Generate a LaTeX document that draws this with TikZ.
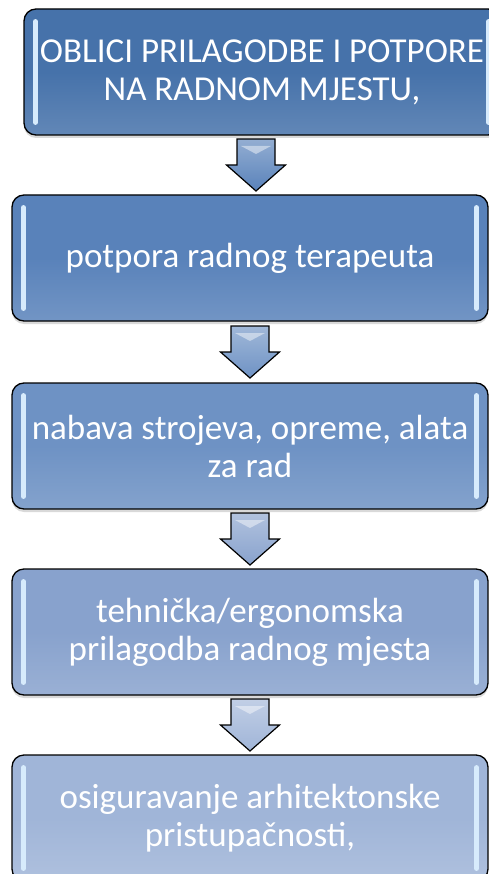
\documentclass[tikz,border=0pt]{standalone}
\usepackage{fontspec}
\setmainfont{Carlito}
\usetikzlibrary{calc,shadows}

\definecolor{stepA}{RGB}{70,114,170}
\definecolor{stepB}{RGB}{89,130,186}
\definecolor{stepC}{RGB}{110,146,196}
\definecolor{stepD}{RGB}{136,162,205}
\definecolor{stepE}{RGB}{160,181,216}
\definecolor{glintc}{RGB}{215,235,252}

\tikzset{
  stage/.style={rectangle, rounded corners=12pt, draw=black, line width=1.3pt,
                minimum width=476pt, minimum height=126pt, text=white, align=center,
                font=\fontsize{35}{38}\selectfont,
                top color=#1, bottom color=#1!85!white, middle color=#1,
                drop shadow={opacity=.3, shadow xshift=0pt, shadow yshift=-3pt}},
  glint/.style={line width=4.5pt, line cap=round, draw=glintc},
  flow/.style={draw=black, line width=1.2pt, line join=miter,
               top color=#1!65!white, bottom color=#1}
}

% block arrow from one stage to the next
\newcommand\flowarrow[3]{%
  \coordinate (#1#2) at ($(#1.south)!.5!(#2.north)$);
  \draw[flow=#3] ($(#1#2)+(-19,-26)$) -- ($(#1#2)+(19,-26)$) -- ($(#1#2)+(19,0)$)
    -- ($(#1#2)+(29.5,0)$) -- ($(#1#2)+(0,26)$) -- ($(#1#2)+(-29.5,0)$)
    -- ($(#1#2)+(-19,0)$) -- cycle;
  \fill[white, opacity=.45] ($(#1#2)+(-15,-19)$) -- ($(#1#2)+(15,-19)$)
    -- ($(#1#2)+(0,-11)$) -- cycle;
}

\begin{document}
\begin{tikzpicture}[x=1pt, y=-1pt]
\clip (0,0) rectangle (489,874);

\node[stage=stepA] (b1) at (262,72) {OBLICI PRILAGODBE I POTPORE\\NA RADNOM MJESTU,};
\node[stage=stepB] (b2) at (250,258) {potpora radnog terapeuta};
\node[stage=stepC] (b3) at (250,446) {nabava strojeva, opreme, alata\\za rad};
\node[stage=stepD] (b4) at (250,632) {tehnička/ergonomska\\prilagodba radnog mjesta};
\node[stage=stepE] (b5) at (250,818) {osiguravanje arhitektonske\\pristupačnosti,};

% light edges inside the boxes
\foreach \b in {b1,b2,b3,b4,b5} {
  \draw[glint] ($(\b.north west)+(12,13)$) -- ($(\b.south west)+(12,-13)$);
  \draw[glint] ($(\b.north east)+(-12,13)$) -- ($(\b.south east)+(-12,-13)$);
}

\flowarrow{b1}{b2}{stepB}
\flowarrow{b2}{b3}{stepC}
\flowarrow{b3}{b4}{stepD}
\flowarrow{b4}{b5}{stepE}

\end{tikzpicture}
\end{document}
